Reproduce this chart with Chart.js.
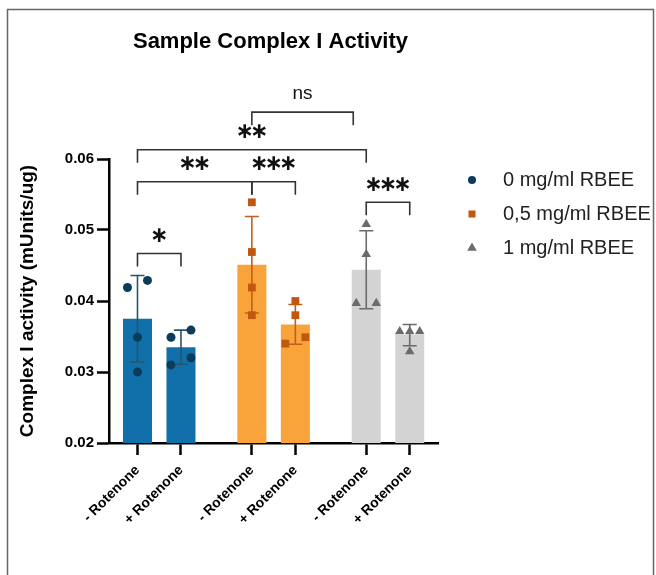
<!DOCTYPE html>
<html>
<head>
<meta charset="utf-8">
<script src="https://cdn.jsdelivr.net/npm/chart.js@4.4.1/dist/chart.umd.min.js"></script>
<style>
  html, body { margin: 0; padding: 0; background: #fff; }
  #wrap { width: 656px; height: 575px; }
</style>
</head>
<body>
<div id="wrap"><canvas id="chart" width="656" height="575"></canvas></div>
<script>
const barLabels = ['- Rotenone', '+ Rotenone', '- Rotenone', '+ Rotenone', '- Rotenone', '+ Rotenone'];
const groupNames = ['0 mg/ml RBEE', '0,5 mg/ml RBEE', '1 mg/ml RBEE'];
const barMeans = [0.0375, 0.0335, 0.0451, 0.0367, 0.0444, 0.0352];
const barSD = [0.0061, 0.0024, 0.0068, 0.0028, 0.0055, 0.0015];
// individual replicates, [-Rotenone, +Rotenone] per RBEE dose
const pointsRbee0 = [[0.0419, 0.0429, 0.0349, 0.0300], [0.0349, 0.0359, 0.0310, 0.0320]];
const pointsRbee05 = [[0.0539, 0.0469, 0.0419, 0.0380], [0.0400, 0.0380, 0.0340, 0.0349]];
const pointsRbee1 = [[0.0508, 0.0466, 0.0397, 0.0397], [0.0357, 0.0357, 0.0357, 0.0329]];
const yTicks = [0.02, 0.03, 0.04, 0.05, 0.06];

// significance brackets: from bar, to bar, height, label
const sigFrom = [0, 0, 2, 0, 2, 4];
const sigTo = [1, 2, 3, 4, 4, 5];
const sigLevel = [0.0467, 0.0568, 0.0568, 0.0613, 0.0666, 0.0539];
const sigText = ['*', '**', '***', '**', 'ns', '***'];

const barFill = ['#1170a9', '#f9a43a', '#d3d3d3'];
const dotColor = ['#0d3c5b', '#c0580f', '#6b6b6b'];
const errColor = ['#29546e', '#c0601c', '#6b6b6b'];
const dotStyle = ['circle', 'rect', 'triangle'];
const dotRadius = [4.5, 5.5, 5.5];
const legendRadius = [4, 5, 5.5];

const FONT = "'Liberation Sans', Arial, sans-serif";
const GROUP_STEP = 2.63;   // spacing between dose groups (bar spacing = 1)
const JIT = 0.23;          // sideways spread of overlapping replicates

const barX = barMeans.map((m, i) => Math.floor(i / 2) * GROUP_STEP + (i % 2));

function spread(vals) {
  const order = vals.map((v, i) => i).sort((a, b) => vals[a] - vals[b]);
  const off = vals.map(() => 0);
  let start = 0;
  for (let k = 1; k <= order.length; k++) {
    if (k === order.length || vals[order[k]] - vals[order[k - 1]] >= 0.0015) {
      const n = k - start;
      for (let j = 0; j < n; j++) off[order[start + j]] = n > 1 ? (j / (n - 1) - 0.5) * 2 * JIT : 0;
      start = k;
    }
  }
  return off;
}

const allPoints = [pointsRbee0, pointsRbee05, pointsRbee1];
const scatterSets = allPoints.map((grp, g) => {
  const data = [];
  grp.forEach((vals, i) => {
    const off = spread(vals);
    vals.forEach((v, k) => data.push({ x: barX[g * 2 + i] + off[k], y: v }));
  });
  return {
    type: 'scatter',
    label: groupNames[g],
    data: data,
    pointStyle: dotStyle[g],
    pointRadius: dotRadius[g],
    backgroundColor: dotColor[g],
    borderWidth: 0,
    order: 0
  };
});

const extras = {
  id: 'extras',
  afterDatasetDraw(chart, args) {
    if (args.index !== 0) return;
    const ctx = chart.ctx, y = chart.scales.y;
    ctx.save();
    ctx.lineWidth = 1.6;
    args.meta.data.forEach((bar, i) => {
      const g = Math.floor(i / 2);
      const yt = y.getPixelForValue(barMeans[i] + barSD[i]);
      const yb = y.getPixelForValue(barMeans[i] - barSD[i]);
      ctx.strokeStyle = errColor[g];
      ctx.beginPath();
      ctx.moveTo(bar.x, yt); ctx.lineTo(bar.x, yb);
      ctx.moveTo(bar.x - 7, yt); ctx.lineTo(bar.x + 7, yt);
      ctx.moveTo(bar.x - 7, yb); ctx.lineTo(bar.x + 7, yb);
      ctx.stroke();
    });
    ctx.restore();
  },
  afterDraw(chart, args, opts) {
    const ctx = chart.ctx, xs = chart.scales.x, ys = chart.scales.y;
    ctx.save();
    // frame
    ctx.strokeStyle = '#666';
    ctx.lineWidth = 1.5;
    ctx.strokeRect(7.5, 9.5, 646, 600);
    // title
    ctx.fillStyle = '#000';
    ctx.font = 'bold 22px ' + FONT;
    ctx.textAlign = 'center';
    ctx.textBaseline = 'middle';
    ctx.fillText('Sample Complex I Activity', 270.5, 42);
    // brackets
    ctx.strokeStyle = '#333';
    ctx.lineWidth = 1.6;
    sigFrom.forEach((f, k) => {
      const x1 = xs.getPixelForValue(barX[f]);
      const x2 = xs.getPixelForValue(barX[sigTo[k]]) - opts.insetRight[k];
      const yl = ys.getPixelForValue(sigLevel[k]);
      ctx.beginPath();
      ctx.moveTo(x1, yl + 13); ctx.lineTo(x1, yl); ctx.lineTo(x2, yl); ctx.lineTo(x2, yl + 13);
      ctx.stroke();
      const mid = (x1 + x2) / 2;
      ctx.fillStyle = '#111';
      if (sigText[k] === 'ns') {
        ctx.font = '19px ' + FONT;
        ctx.fillText('ns', mid, yl - 18);
      } else {
        ctx.font = "bold 22px 'DejaVu Sans', sans-serif";
        const n = sigText[k].length;
        for (let j = 0; j < n; j++) {
          ctx.fillText('\u2217', mid + (j - (n - 1) / 2) * 14.5, yl - 17);
        }
      }
    });
    // legend
    groupNames.forEach((name, g) => {
      const ly = 180 + g * 34;
      ctx.fillStyle = dotColor[g];
      Chart.helpers.drawPoint(ctx, { pointStyle: dotStyle[g], radius: legendRadius[g], rotation: 0, borderWidth: 0 }, 472, ly);
      ctx.fillStyle = '#222';
      ctx.font = '20px ' + FONT;
      ctx.textAlign = 'left';
      ctx.fillText(name, 503, ly);
      ctx.textAlign = 'center';
    });
    ctx.restore();
  }
};

Chart.defaults.font.family = FONT;

new Chart(document.getElementById('chart'), {
  type: 'bar',
  data: {
    datasets: [
      {
        type: 'bar',
        label: 'mean',
        data: barMeans.map((m, i) => ({ x: barX[i], y: m })),
        backgroundColor: barMeans.map((m, i) => barFill[Math.floor(i / 2)]),
        borderWidth: 0,
        barPercentage: 0.667,
        categoryPercentage: 1,
        order: 1
      },
      ...scatterSets
    ]
  },
  options: {
    responsive: false,
    animation: false,
    layout: { padding: { top: 159, right: 218, left: 0, bottom: 0 } },
    plugins: {
      legend: { display: false },
      tooltip: { enabled: false },
      extras: { insetRight: [0, 0, 0, 0, 13, 0] }
    },
    scales: {
      x: {
        type: 'linear',
        offset: false,
        min: -0.655,
        max: 6.91,
        afterBuildTicks: s => { s.ticks = barX.map(v => ({ value: v })); },
        afterFit: s => { s.height = 132; },
        ticks: {
          callback: (v, i) => barLabels[i],
          autoSkip: false,
          minRotation: 45,
          maxRotation: 45,
          color: '#000',
          padding: 7,
          font: { size: 14, weight: 'bold' }
        },
        grid: { offset: false, drawOnChartArea: false, drawTicks: true, tickLength: 12, tickWidth: 2.5, tickColor: '#000' },
        border: { display: true, color: '#000', width: 2.5 }
      },
      y: {
        min: 0.02,
        max: 0.06,
        afterBuildTicks: s => { s.ticks = yTicks.map(v => ({ value: v })); },
        afterFit: s => { s.width = 109; },
        ticks: {
          callback: v => v.toFixed(2),
          color: '#000',
          padding: 3,
          font: { size: 15, weight: 'bold' }
        },
        grid: { drawOnChartArea: false, drawTicks: true, tickLength: 12, tickWidth: 2.5, tickColor: '#000' },
        border: { display: true, color: '#000', width: 2.5 },
        title: {
          display: true,
          text: 'Complex I activity (mUnits/ug)',
          color: '#000',
          font: { size: 19, weight: 'bold' },
          padding: { top: 16, bottom: 0 }
        }
      }
    }
  },
  plugins: [extras]
});
</script>
</body>
</html>
